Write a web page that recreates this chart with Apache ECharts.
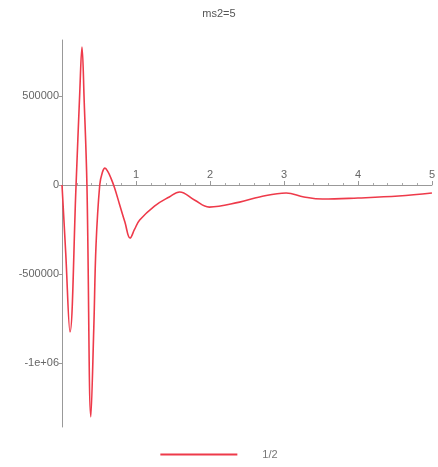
<!DOCTYPE html>
<html lang="en">
    <head>
        <meta charset="UTF-8">
        <title>ms2=5</title>
        <script src="https://cdn.jsdelivr.net/npm/echarts@6/dist/echarts.min.js"></script>
        <style>
            html, body {
                margin: 0;
                height: 100%;
                background: #fff;
            }
        </style>
    </head>
    <body>
        <div id="main" style="width: 438px;height: 467px;"></div>
    </body>
</html>
<script>
    // values
    var title = 'ms2=5';
    var seriesName = '1/2';
    var xs = [0, 0.05, 0.108, 0.19, 0.24, 0.27, 0.30, 0.337, 0.39, 0.43, 0.46, 0.51, 0.545, 0.58, 0.62, 0.66, 0.71, 0.78, 0.85, 0.92, 0.98,
        1.05, 1.25, 1.45, 1.59, 1.79, 1.99, 2.4, 2.67, 3.03, 3.27, 3.52, 4.0, 4.55, 5.0];
    var ys = [0, -380000, -826000, 0, 520000, 775000, 470000, 0, -1303000, -800000, -337000, 0, 70000, 95000, 75000, 40000, -15000, -112000, -208000, -298000, -250000,
        -197000, -118000, -67000, -39000, -84000, -124000, -96000, -67000, -45000, -67000, -79000, -73000, -62000, -45000];
    var xLabels = [1, 2, 3, 4, 5];
    var yLabels = [-1000000, -500000, 0, 500000];

    var pts = [];
    for (var i = 0; i < xs.length; i++) {
        pts.push([xs[i], ys[i]]);
    }

    var myChart = echarts.init(document.getElementById('main'));

    var option = {
        animation: false,
        title: {
            text: title,
            left: 'center',
            top: 3,
            textStyle: {fontSize: 11, fontWeight: 'normal', color: '#555', fontFamily: 'Liberation Sans'}
        },
        legend: {
            bottom: 2,
            left: 'center',
            icon: 'rect',
            itemWidth: 77,
            itemHeight: 2,
            textStyle: {fontSize: 11, color: '#777', fontFamily: 'Liberation Sans', padding: [0, 0, 0, 20]},
            data: [seriesName]
        },
        grid: {left: 62, right: 5, top: 40, bottom: 40},
        xAxis: {
            type: 'value',
            min: 0,
            max: 5,
            interval: 1,
            axisLine: {onZero: false, lineStyle: {color: '#999'}},
            axisTick: {inside: true, length: 4, customValues: xLabels, lineStyle: {color: '#999'}},
            minorTick: {show: true, splitNumber: 5, length: 2, lineStyle: {color: '#aaa'}},
            axisLabel: {inside: true, customValues: xLabels, color: '#666', fontSize: 11, margin: 5, fontFamily: 'Liberation Sans'},
            splitLine: {show: false}
        },
        yAxis: {
            type: 'value',
            min: -1360000,
            max: 815000,
            axisLine: {onZero: true, lineStyle: {color: '#999'}},
            axisTick: {show: true, length: 3, customValues: yLabels, lineStyle: {color: '#999'}},
            axisLabel: {
                customValues: yLabels,
                color: '#666',
                fontSize: 11,
                margin: 3,
                fontFamily: 'Liberation Sans',
                formatter: function (v) {
                    if (v === -1000000) return '-1e+06';
                    return String(v);
                }
            },
            splitLine: {show: false}
        },
        series: [{
            name: seriesName,
            type: 'line',
            data: pts,
            symbol: 'none',
            smooth: 0.4,
            lineStyle: {color: '#ee3a4a', width: 1.6},
            itemStyle: {color: '#ee3a4a'}
        }]
    };

    myChart.setOption(option);

    // move the x axis (line, ticks, labels) up to y = 0
    var zeroY = myChart.convertToPixel({gridIndex: 0}, [0, 0])[1];
    var bottomY = 467 - 40;
    myChart.setOption({xAxis: {offset: -(bottomY - zeroY)}});
</script>
